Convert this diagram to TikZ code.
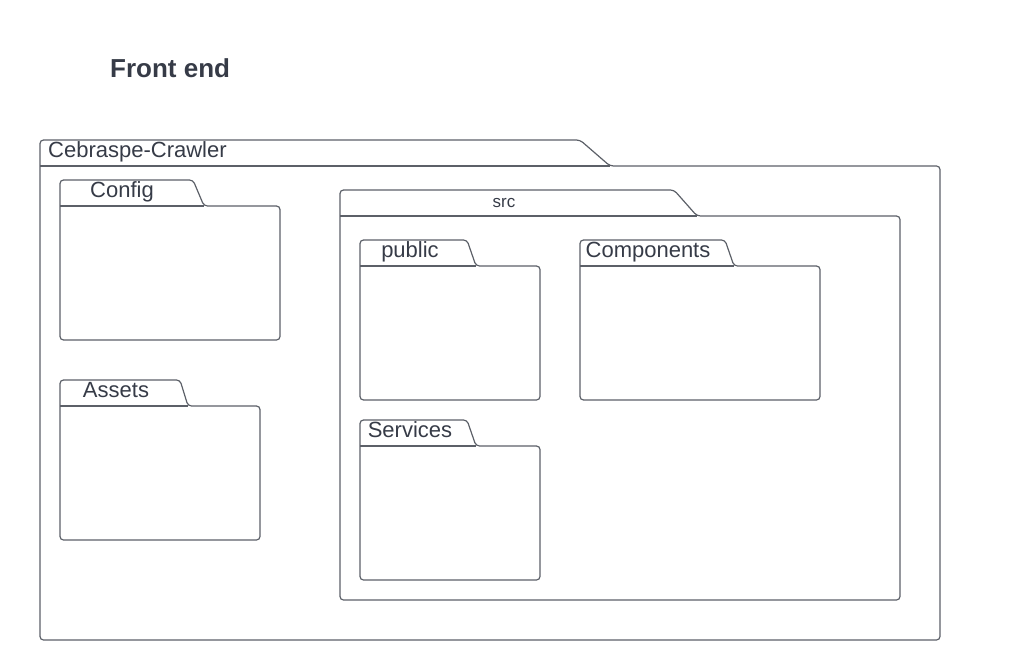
\documentclass[tikz,border=0pt]{standalone}
\usepackage{fontspec}
\setmainfont{Liberation Sans}
\usetikzlibrary{positioning}
\definecolor{inkgray}{HTML}{363B47}
\definecolor{linegray}{HTML}{5C6068}
\tikzset{folder/.style={
            draw=linegray,
            line width=1.2pt,
            rounded corners=3.5pt
        },
        label/.style={
            text=inkgray,
            inner sep=0pt,
            anchor=base,
            font=\fontsize{22}{26}\selectfont
        },
        smalllabel/.style={
            label,
            font=\fontsize{17}{20}\selectfont
        },
        title/.style={
            text=inkgray,
            inner sep=0pt,
            anchor=base west,
            font=\fontsize{26}{31}\selectfont\bfseries
        }
    }
% x0, tab top, tab right, slope end, body top, x1, bottom
\newcommand{\drawfolder}[7]{%
    \draw[folder] (#1,#5) -- (#1,#2) -- (#3,#2) -- (#4,#5) -- (#6,#5) -- (#6,#7) -- (#1,#7) -- cycle;
    \draw[folder] (#1,#5) -- (#4,#5);
}
\begin{document}
\begin{tikzpicture}[x=1pt,y=-1pt]
        \useasboundingbox (0,0) rectangle (1010,669);

        \node[title] (front) at (110,77.5) {Front end};

        \drawfolder{40}{140}{580}{610}{166}{940}{640}
        \node[label,anchor=base west] (crawler) at (48,157) {Cebraspe-Crawler};

        \drawfolder{60}{180}{193}{204}{206}{280}{340}
        \node[label] (config) at (122,197) {Config};

        \drawfolder{60}{380}{180}{188}{406}{260}{540}
        \node[label] (assets) at (116,397) {Assets};

        \drawfolder{340}{190}{674}{697}{216}{900}{600}
        \node[smalllabel] (src) at (504,207) {src};

        \drawfolder{360}{240}{467}{476}{266}{540}{400}
        \node[label] (public) at (410,257) {public};

        \drawfolder{580}{240}{725}{734}{266}{820}{400}
        \node[label] (components) at (648,257) {Components};

        \drawfolder{360}{420}{467}{476}{446}{540}{580}
        \node[label] (services) at (410,437) {Services};

    \end{tikzpicture}
\end{document}
